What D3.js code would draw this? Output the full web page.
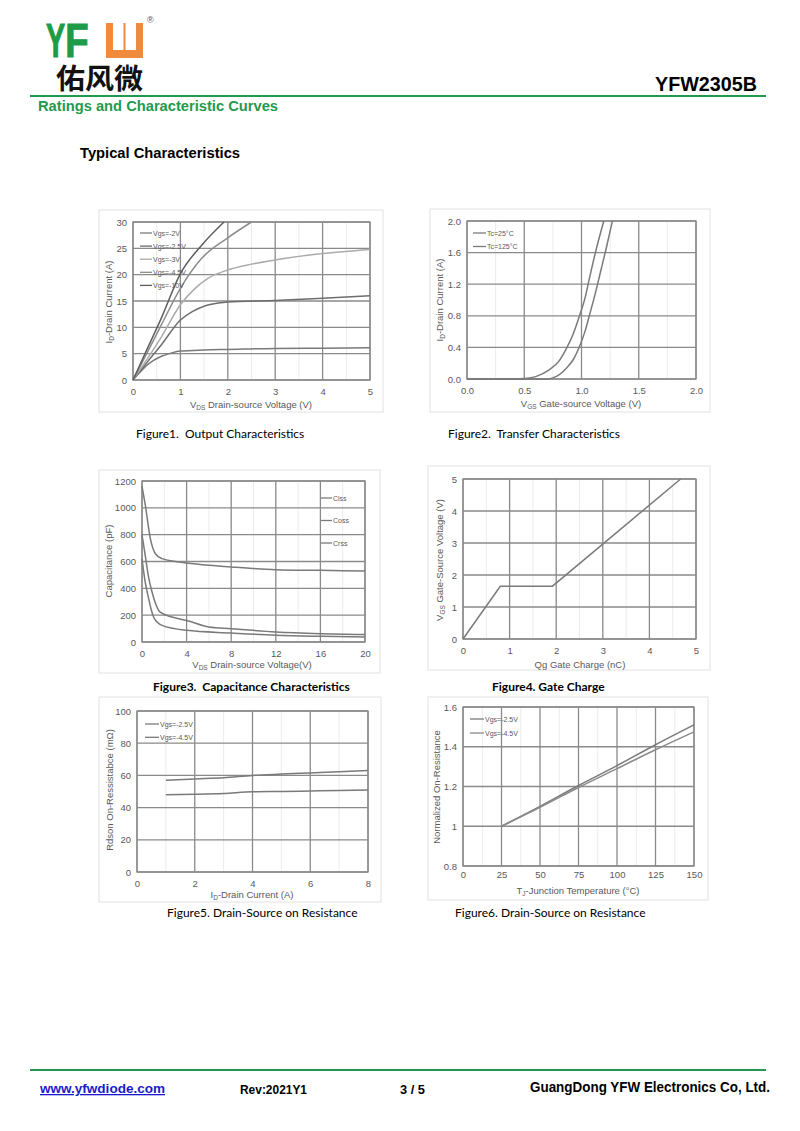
<!DOCTYPE html>
<html>
<head>
<meta charset="utf-8">
<script src="https://cdn.jsdelivr.net/npm/d3@7"></script>
<style>
  body { margin: 0; background: #fff; }
  svg text { font-family: "Liberation Sans", Arial, sans-serif; }
</style>
</head>
<body>
<div id="page"></div>
<script>
// ---- Figure 1: output characteristics
const outNames = ["Vgs=-2V", "Vgs=-2.5V", "Vgs=-3V", "Vgs=-4.5V", "Vgs=-10V"];
const outVds = [
  [0, 0.15, 0.32, 0.6, 0.8, 1, 1.5, 2, 3, 4, 5],
  [0, 0.3, 0.6, 1, 1.25, 1.5, 1.8, 2, 3, 4, 5],
  [0, 0.3, 0.6, 1, 1.3, 1.58, 2, 2.5, 3, 4, 5],
  [0, 0.3, 0.6, 1, 1.44, 2, 2.5],
  [0, 0.3, 0.6, 1, 1.44, 1.92]
];
const outId = [
  [0, 1.5, 3, 4.5, 5.1, 5.5, 5.7, 5.8, 6.0, 6.05, 6.1],
  [0, 3.4, 6.7, 11.4, 13, 14, 14.6, 14.8, 15.1, 15.5, 16],
  [0, 4, 8.2, 14.3, 17.3, 19.3, 20.9, 22, 22.8, 24, 24.8],
  [0, 5.2, 10.5, 17.4, 23, 27, 30],
  [0, 5.9, 11.8, 20.2, 25.5, 30]
];

// ---- Figure 2: transfer characteristics
const trNames = ["Tc=25°C", "Tc=125°C"];
const trVgs = [
  [0, 0.7, 0.76, 0.8, 0.87, 0.93, 0.985, 1.03, 1.07, 1.12, 1.16, 1.22, 1.27],
  [0, 0.45, 0.5, 0.6, 0.72, 0.8, 0.87, 0.93, 0.985, 1.03, 1.07, 1.13, 1.195]
];
const trId = [
  [0, 0, 0.02, 0.05, 0.14, 0.25, 0.42, 0.6, 0.81, 1.08, 1.32, 1.68, 2.0],
  [0, 0, 0.005, 0.03, 0.12, 0.22, 0.39, 0.58, 0.81, 1.02, 1.28, 1.65, 2.0]
];

// ---- Figure 3: capacitance
const capNames = ["Ciss", "Coss", "Crss"];
const capVds = [
  [0, 0.3, 0.75, 1.2, 1.8, 3, 4, 6, 8, 12, 16, 20],
  [0, 0.3, 0.6, 0.9, 1.2, 1.6, 2.7, 4, 6, 8, 12, 16, 20],
  [0, 0.3, 0.6, 0.8, 1.04, 1.4, 1.8, 4, 8, 12, 16, 20]
];
const capPf = [
  [1160, 1018, 770, 658, 621, 600, 589, 572, 559, 539, 534, 529],
  [800, 640, 480, 373, 290, 224, 186, 161, 112, 99, 75, 62, 55],
  [620, 440, 323, 250, 186, 145, 124, 87, 67, 50, 42, 37]
];

// ---- Figure 4: gate charge
const gcQg = [0, 0.8, 1.92, 4.67];
const gcVgs = [0, 1.65, 1.65, 5];

// ---- Figure 5: on resistance vs drain current
const rdNames = ["Vgs=-2.5V", "Vgs=-4.5V"];
const rdId = [1, 2, 3, 4, 5, 6, 7, 8];
const rdVal = [
  [57, 57.8, 58.5, 60, 60.8, 61.5, 62.2, 63],
  [48, 48.3, 48.8, 49.8, 50, 50.3, 50.6, 51]
];

// ---- Figure 6: normalized on resistance vs temperature
const ntNames = ["Vgs=-2.5V", "Vgs=-4.5V"];
const ntTj = [25, 50, 75, 100, 125, 150];
const ntVal = [
  [1, 1.1, 1.205, 1.305, 1.41, 1.51],
  [1, 1.095, 1.195, 1.29, 1.385, 1.475]
];

const svg = d3.select("#page").append("svg")
    .attr("width", 800)
    .attr("height", 1131);

const green = "#1f9a4e";

// ---------------- header
// logo letters, each stretched to its own box
svg.append("text")
    .attr("transform", "translate(46,57) scale(0.8,1.35)")
    .style("font-size", "36px").style("font-weight", "bold")
    .attr("fill", "#1d9b48")
    .attr("stroke", "#1d9b48").attr("stroke-width", 0.8)
    .text("Y");
svg.append("text")
    .attr("transform", "translate(65,57) scale(1.08,1.35)")
    .style("font-size", "36px").style("font-weight", "bold")
    .attr("fill", "#1d9b48")
    .attr("stroke", "#1d9b48").attr("stroke-width", 0.6)
    .text("F");

// orange "W" glyph drawn as a block with two slots
svg.append("path")
    .attr("d", "M106,23 H143 V58 H106 Z M113,23 V50 H122 V23 Z M127,23 V50 H136 V23 Z")
    .attr("fill", "#f08a3c")
    .attr("fill-rule", "evenodd");
svg.append("rect").attr("x", 122).attr("y", 23).attr("width", 5).attr("height", 27).attr("fill", "#fff");
svg.append("rect").attr("x", 123.5).attr("y", 23).attr("width", 2).attr("height", 27).attr("fill", "#f08a3c");

svg.append("text")
    .attr("x", 147).attr("y", 23)
    .style("font-size", "9px")
    .attr("fill", "#555")
    .text("®");

svg.append("text")
    .attr("x", 56).attr("y", 89)
    .attr("textLength", 87).attr("lengthAdjust", "spacingAndGlyphs")
    .style("font-family", "'Noto Sans CJK SC'")
    .style("font-size", "28px").style("font-weight", "bold")
    .attr("fill", "#111")
    .text("佑风微");

svg.append("text")
    .attr("x", 757).attr("y", 91)
    .attr("text-anchor", "end")
    .attr("textLength", 102).attr("lengthAdjust", "spacingAndGlyphs")
    .style("font-size", "20px").style("font-weight", "bold")
    .text("YFW2305B");

svg.append("line")
    .attr("x1", 30).attr("x2", 766).attr("y1", 96).attr("y2", 96)
    .attr("stroke", green).attr("stroke-width", 2.2);

svg.append("text")
    .attr("x", 38).attr("y", 111)
    .attr("textLength", 240).attr("lengthAdjust", "spacingAndGlyphs")
    .style("font-size", "14px").style("font-weight", "bold")
    .attr("fill", green)
    .text("Ratings and Characteristic Curves");

svg.append("text")
    .attr("x", 80).attr("y", 158)
    .attr("textLength", 160).attr("lengthAdjust", "spacingAndGlyphs")
    .style("font-size", "14px").style("font-weight", "bold")
    .text("Typical Characteristics");

// ---------------- footer
svg.append("line")
    .attr("x1", 30).attr("x2", 766).attr("y1", 1070).attr("y2", 1070)
    .attr("stroke", green).attr("stroke-width", 2.2);

svg.append("text")
    .attr("x", 40).attr("y", 1093)
    .attr("textLength", 125).attr("lengthAdjust", "spacingAndGlyphs")
    .style("font-size", "13px").style("font-weight", "bold")
    .style("text-decoration", "underline")
    .attr("fill", "#1a1acc")
    .text("www.yfwdiode.com");

svg.append("text")
    .attr("x", 240).attr("y", 1094)
    .attr("textLength", 67).attr("lengthAdjust", "spacingAndGlyphs")
    .style("font-size", "12px").style("font-weight", "bold")
    .text("Rev:2021Y1");

svg.append("text")
    .attr("x", 400).attr("y", 1094)
    .attr("textLength", 25).attr("lengthAdjust", "spacingAndGlyphs")
    .style("font-size", "12px").style("font-weight", "bold")
    .text("3 / 5");

svg.append("text")
    .attr("x", 530).attr("y", 1092)
    .attr("textLength", 240).attr("lengthAdjust", "spacingAndGlyphs")
    .style("font-size", "14px").style("font-weight", "bold")
    .text("GuangDong YFW Electronics Co, Ltd.");

// ---------------- chart helper
const ink = "#595959";

// write a label made of [text, isSubscript] parts
function richText(sel, parts) {
  parts.forEach(p => {
    sel.append("tspan")
        .attr("baseline-shift", p[1] ? "-25%" : null)
        .style("font-size", p[1] ? "6.5px" : null)
        .text(p[0]);
  });
}

function chart(o) {
  const g = svg.append("g");
  const [fx0, fy0, fx1, fy1] = o.frame;
  const [px0, py0, px1, py1] = o.plot;

  g.append("rect")
      .attr("x", fx0).attr("y", fy0)
      .attr("width", fx1 - fx0).attr("height", fy1 - fy0)
      .attr("fill", "#fff").attr("stroke", "#e2e2e2").attr("stroke-width", 1);

  const x = d3.scaleLinear().domain(o.xd).range([px0, px1]);
  const y = d3.scaleLinear().domain(o.yd).range([py1, py0]);

  // faint minor verticals
  g.append("g").selectAll("line")
      .data(o.xminor || [])
      .join("line")
      .attr("x1", d => x(d)).attr("x2", d => x(d))
      .attr("y1", py0).attr("y2", py1)
      .attr("stroke", "#ececec").attr("stroke-width", 1);

  // major grid
  g.append("g").selectAll("line")
      .data(o.xt)
      .join("line")
      .attr("x1", d => x(d)).attr("x2", d => x(d))
      .attr("y1", py0).attr("y2", py1)
      .attr("stroke", "#8a8a8a").attr("stroke-width", 1.3);
  g.append("g").selectAll("line")
      .data(o.yt)
      .join("line")
      .attr("x1", px0).attr("x2", px1)
      .attr("y1", d => y(d)).attr("y2", d => y(d))
      .attr("stroke", "#8a8a8a").attr("stroke-width", 1.3);

  g.append("rect")
      .attr("x", px0).attr("y", py0)
      .attr("width", px1 - px0).attr("height", py1 - py0)
      .attr("fill", "none").attr("stroke", "#8a8a8a").attr("stroke-width", 1.3);

  // tick labels through d3 axes
  const xa = g.append("g")
      .attr("transform", "translate(0," + py1 + ")")
      .call(d3.axisBottom(x).tickValues(o.xt).tickSize(0).tickPadding(o.xpad || 8).tickFormat(o.xf || (d => d)));
  const ya = g.append("g")
      .attr("transform", "translate(" + px0 + ",0)")
      .call(d3.axisLeft(y).tickValues(o.yt).tickSize(0).tickPadding(o.ypad || 6).tickFormat(o.yf || (d => d)));
  [xa, ya].forEach(a => {
    a.select(".domain").remove();
    a.selectAll("text")
        .attr("fill", ink)
        .style("font-size", "9.5px")
        .style("font-family", "'Liberation Sans', Arial, sans-serif");
  });

  // axis titles
  const xt = g.append("text")
      .attr("x", o.xtitle[0]).attr("y", o.xtitle[1])
      .attr("text-anchor", "middle")
      .attr("fill", ink)
      .style("font-size", "9.5px");
  richText(xt, o.xlabel);

  const yt = g.append("text")
      .attr("transform", "translate(" + o.ytitle[0] + "," + o.ytitle[1] + ") rotate(-90)")
      .attr("text-anchor", "middle")
      .attr("fill", ink)
      .style("font-size", "9.5px");
  richText(yt, o.ylabel);

  // curves
  const line = d3.line()
      .x(d => x(d[0]))
      .y(d => y(d[1]))
      .curve(o.curve || d3.curveMonotoneX);

  const series = o.xs.map((xs, i) => xs.map((v, j) => [v, o.ys[i][j]]));
  g.append("g").selectAll("path")
      .data(series)
      .join("path")
      .attr("d", line)
      .attr("fill", "none")
      .attr("stroke", (d, i) => o.colors[i])
      .attr("stroke-width", 1.5);

  // legend
  if (o.legend) {
    const L = o.legend;
    const lg = g.append("g").selectAll("g")
        .data(L.names)
        .join("g")
        .attr("transform", (d, i) => "translate(" + L.x + "," + (L.y + i * L.dy) + ")");
    lg.append("line")
        .attr("x1", 0).attr("x2", L.len)
        .attr("y1", 0).attr("y2", 0)
        .attr("stroke", (d, i) => L.colors ? L.colors[i] : o.colors[i])
        .attr("stroke-width", 1.3);
    lg.append("text")
        .attr("x", L.len + 1).attr("y", 2.5)
        .attr("fill", ink)
        .style("font-size", "7px")
        .text(d => d);
  }

  // caption
  g.append("text")
      .attr("x", o.caption[0]).attr("y", o.caption[1])
      .style("font-family", "Lato, 'Open Sans', sans-serif")
      .style("font-size", "12px")
      .style("font-weight", o.bold ? "bold" : "normal")
      .attr("xml:space", "preserve")
      .style("white-space", "pre")
      .attr("fill", "#000")
      .text(o.captionText);
}

const f1 = d3.format(".1f");

chart({
  frame: [99, 210, 383, 412], plot: [133, 222, 370, 380],
  xd: [0, 5], yd: [0, 30],
  xt: [0, 1, 2, 3, 4, 5], yt: [0, 5, 10, 15, 20, 25, 30],
  xminor: [0.5, 1.5, 2.5, 3.5, 4.5],
  xs: outVds, ys: outId,
  colors: ["#7a7a7a", "#6e6e6e", "#ababab", "#8c8c8c", "#5e5e5e"],
  legend: { names: outNames, x: 140, y: 233, dy: 13.1, len: 12 },
  xlabel: [["V", 0], ["DS", 1], [" Drain-source Voltage (V)", 0]], xtitle: [251, 408],
  ylabel: [["I", 0], ["D", 1], ["-Drain Current (A)", 0]], ytitle: [112, 302],
  caption: [136, 438], captionText: "Figure1.  Output Characteristics"
});

chart({
  frame: [430, 209, 710, 412], plot: [467, 221, 696, 379],
  xd: [0, 2], yd: [0, 2],
  xt: [0, 0.5, 1, 1.5, 2], yt: [0, 0.4, 0.8, 1.2, 1.6, 2],
  xminor: [0.25, 0.75, 1.25, 1.75],
  xf: f1, yf: f1,
  xs: trVgs, ys: trId,
  colors: ["#7a7a7a", "#7a7a7a"],
  legend: { names: trNames, x: 473, y: 233, dy: 13.5, len: 13 },
  xlabel: [["V", 0], ["GS", 1], [" Gate-source Voltage (V)", 0]], xtitle: [581, 407],
  ylabel: [["I", 0], ["D", 1], ["-Drain Current (A)", 0]], ytitle: [443, 300],
  caption: [448, 438], captionText: "Figure2.  Transfer Characteristics"
});

chart({
  frame: [99, 470, 380, 673], plot: [142, 481, 365, 642],
  xd: [0, 20], yd: [0, 1200],
  xt: [0, 4, 8, 12, 16, 20], yt: [0, 200, 400, 600, 800, 1000, 1200],
  xminor: [2, 6, 10, 14, 18],
  xs: capVds, ys: capPf,
  colors: ["#7a7a7a", "#7a7a7a", "#7a7a7a"],
  legend: { names: capNames, x: 321, y: 498, dy: 22.5, len: 11 },
  xlabel: [["V", 0], ["DS", 1], [" Drain-source Voltage(V)", 0]], xtitle: [252, 668],
  ylabel: [["Capacitance (pF)", 0]], ytitle: [112, 561],
  caption: [153, 691], captionText: "Figure3.  Capacitance Characteristics", bold: true
});

chart({
  frame: [428, 466, 710, 670], plot: [463, 479, 696, 639],
  xd: [0, 5], yd: [0, 5],
  xt: [0, 1, 2, 3, 4, 5], yt: [0, 1, 2, 3, 4, 5],
  xminor: [0.5, 1.5, 2.5, 3.5, 4.5],
  xs: [gcQg], ys: [gcVgs],
  curve: d3.curveLinear,
  colors: ["#7a7a7a"],
  xlabel: [["Qg Gate Charge (nC)", 0]], xtitle: [580, 668],
  ylabel: [["V", 0], ["GS", 1], [" Gate-Source Voltage (V)", 0]], ytitle: [443, 560],
  caption: [492, 691], captionText: "Figure4. Gate Charge", bold: true
});

chart({
  frame: [99, 697, 381, 902], plot: [137, 711, 368, 872],
  xd: [0, 8], yd: [0, 100],
  xt: [0, 2, 4, 6, 8], yt: [0, 20, 40, 60, 80, 100],
  xminor: [1, 3, 5, 7],
  xs: [rdId, rdId], ys: rdVal,
  colors: ["#7a7a7a", "#7a7a7a"],
  legend: { names: rdNames, x: 145, y: 724, dy: 13.3, len: 14 },
  xlabel: [["I", 0], ["D", 1], ["-Drain Current (A)", 0]], xtitle: [252, 898],
  ylabel: [["Rdson On-Ressistabce (mΩ)", 0]], ytitle: [113, 790],
  caption: [167, 917], captionText: "Figure5. Drain-Source on Resistance"
});

chart({
  frame: [428, 697, 708, 900], plot: [463, 707, 694, 866],
  xd: [0, 150], yd: [0.8, 1.6],
  xt: [0, 25, 50, 75, 100, 125, 150], yt: [0.8, 1, 1.2, 1.4, 1.6],
  xminor: [12.5, 37.5, 62.5, 87.5, 112.5, 137.5],
  xpad: 5,
  xs: [ntTj, ntTj], ys: ntVal,
  colors: ["#7a7a7a", "#8a8a8a"],
  legend: { names: ntNames, x: 470, y: 719, dy: 14, len: 14 },
  xlabel: [["T", 0], ["J", 1], ["-Junction Temperature (°C)", 0]], xtitle: [578, 894],
  ylabel: [["Normalized On-Resistance", 0]], ytitle: [440, 787],
  caption: [455, 917], captionText: "Figure6. Drain-Source on Resistance"
});
</script>
</body>
</html>
